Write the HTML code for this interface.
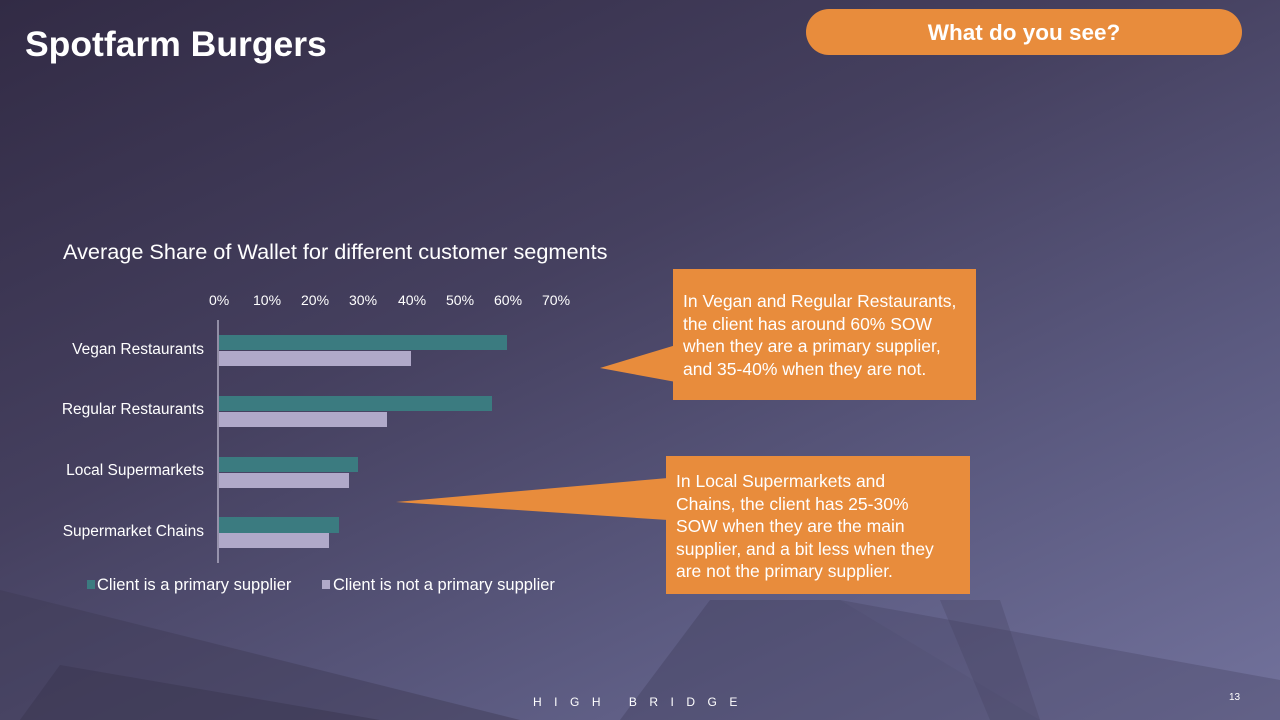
<!DOCTYPE html>
<html><head><meta charset="utf-8"><style>
body{margin:0;width:1280px;height:720px;overflow:hidden;font-family:"Liberation Sans","DejaVu Sans",sans-serif;}
.bg{position:absolute;left:0;top:0;width:1280px;height:720px;background:linear-gradient(155deg,#322b45 0%,#45405f 40%,#5b5a80 70%,#72729c 100%);}
.t{position:absolute;color:#fff;white-space:nowrap;}
.box{position:absolute;background:#e88c3c;color:#fff;font-size:17.5px;line-height:22.5px;box-sizing:border-box;white-space:nowrap;}
</style></head><body>
<div class="bg"></div>
<svg width="1280" height="720" style="position:absolute;left:0;top:0">
<polygon points="0,590 520,720 0,720" fill="#3e3a55" opacity="0.45"/>
<polygon points="60,665 380,720 20,720" fill="#3a3650" opacity="0.5"/>
<polygon points="710,600 840,600 1040,720 620,720" fill="#3c3a55" opacity="0.35"/>
<polygon points="840,600 1280,680 1280,720 1040,720" fill="#3e3c5a" opacity="0.3"/>
<polygon points="940,600 1000,600 1040,720 990,720" fill="#444260" opacity="0.3"/>
<g fill="#3b7b80">
<rect x="219" y="335" width="288" height="15"/>
<rect x="219" y="396" width="273" height="15"/>
<rect x="219" y="457" width="139" height="15"/>
<rect x="219" y="517" width="120" height="16"/>
</g>
<g fill="#b0a9c9">
<rect x="219" y="351" width="192" height="15"/>
<rect x="219" y="412" width="168" height="15"/>
<rect x="219" y="473" width="130" height="15"/>
<rect x="219" y="533" width="110" height="15"/>
</g>
<line x1="218" y1="320" x2="218" y2="563" stroke="#c8c4d8" stroke-width="1.2"/>
<polygon points="600,368 676,345 676,382" fill="#e88c3c"/>
<polygon points="396,502 668,478 668,520" fill="#e88c3c"/>
<rect x="87" y="580" width="8" height="9" fill="#3b7b80"/>
<rect x="322" y="580" width="8" height="9" fill="#b0a9c9"/>
</svg>
<div class="t" style="left:25px;top:24px;font-size:35.5px;font-weight:bold;">Spotfarm Burgers</div>
<div style="position:absolute;left:806px;top:9px;width:436px;height:46px;border-radius:23px;background:#e88c3c;"></div>
<div class="t" style="left:806px;width:436px;top:20px;text-align:center;font-size:22.5px;font-weight:bold;">What do you see?</div>
<div class="t" style="left:63px;top:239px;font-size:21.7px;">Average Share of Wallet for different customer segments</div>
<div class="t" style="left:0;top:292px;font-size:14px;">
<span style="position:absolute;left:209px">0%</span><span style="position:absolute;left:253px">10%</span><span style="position:absolute;left:301px">20%</span><span style="position:absolute;left:349px">30%</span><span style="position:absolute;left:398px">40%</span><span style="position:absolute;left:446px">50%</span><span style="position:absolute;left:494px">60%</span><span style="position:absolute;left:542px">70%</span></div>
<div class="t" style="right:1076px;top:341px;font-size:15.5px;">Vegan Restaurants</div>
<div class="t" style="right:1076px;top:401px;font-size:15.5px;">Regular Restaurants</div>
<div class="t" style="right:1076px;top:462px;font-size:15.5px;">Local Supermarkets</div>
<div class="t" style="right:1076px;top:523px;font-size:15.5px;">Supermarket Chains</div>
<div class="t" style="left:97px;top:576px;font-size:16.5px;">Client is a primary supplier</div>
<div class="t" style="left:333px;top:576px;font-size:16.5px;">Client is not a primary supplier</div>
<div class="box" style="left:673px;top:269px;width:303px;height:131px;padding:21px 0 0 10px;">In Vegan and Regular Restaurants,<br>the client has around 60% SOW<br>when they are a primary supplier,<br>and 35-40% when they are not.</div>
<div class="box" style="left:666px;top:456px;width:304px;height:138px;padding:14px 0 0 10px;">In Local Supermarkets and<br>Chains, the client has 25-30%<br>SOW when they are the main<br>supplier, and a bit less when they<br>are not the primary supplier.</div>
<div class="t" style="left:533px;top:695px;font-size:12px;letter-spacing:12.5px;">HIGH BRIDGE</div>
<div class="t" style="left:1229px;top:692px;font-size:10px;">13</div>
</body></html>
